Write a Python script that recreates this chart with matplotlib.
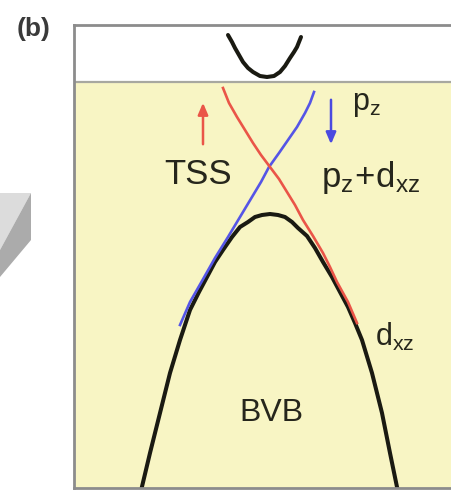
import matplotlib
matplotlib.use('Agg')
import matplotlib.pyplot as plt

# band dispersions (k in arb. units, E in arb. units)
bvb_k = [-1.30, -1.20, -1.10, -1.00, -0.90, -0.85, -0.80, -0.71, -0.63, -0.55, -0.47,
         -0.38, -0.30, -0.22, -0.15, -0.08, 0.00, 0.08, 0.15, 0.22, 0.28, 0.37, 0.45,
         0.53, 0.62, 0.70, 0.78, 0.85, 0.92, 1.02, 1.12, 1.20, 1.27, 1.29]
bvb_e = [-4.13, -3.71, -3.31, -2.91, -2.58, -2.43, -2.28, -2.10, -1.95, -1.80, -1.68,
         -1.55, -1.45, -1.40, -1.35, -1.33, -1.32, -1.33, -1.35, -1.40, -1.46, -1.54, -1.66,
         -1.80, -1.95, -2.10, -2.25, -2.41, -2.58, -2.91, -3.31, -3.71, -4.05, -4.13]

cb_k = [-0.42, -0.38, -0.35, -0.31, -0.27, -0.22, -0.17, -0.10, -0.03, 0.04, 0.10,
        0.15, 0.20, 0.24, 0.27, 0.31]
cb_e = [0.47, 0.40, 0.34, 0.27, 0.20, 0.14, 0.10, 0.06, 0.05, 0.06, 0.10,
        0.16, 0.24, 0.30, 0.35, 0.45]

tss_up_k = [-0.90, -0.80, -0.68, -0.55, -0.42, -0.30, -0.18, -0.09, -0.01, 0.09, 0.18,
            0.27, 0.35, 0.40, 0.44]
tss_up_e = [-2.43, -2.20, -1.99, -1.76, -1.55, -1.35, -1.15, -1.00, -0.85, -0.71, -0.58,
            -0.45, -0.31, -0.21, -0.10]

tss_dn_k = [-0.47, -0.41, -0.33, -0.25, -0.17, -0.09, 0.00, 0.09, 0.17, 0.25, 0.33,
            0.43, 0.53, 0.60, 0.67, 0.78, 0.87]
tss_dn_e = [-0.06, -0.21, -0.35, -0.48, -0.61, -0.73, -0.85, -0.97, -1.10, -1.23, -1.38,
            -1.54, -1.71, -1.85, -2.00, -2.20, -2.41]

# spin arrows: (k, E start, E end)
red_arrow = (-0.67, -0.65, -0.18)
blue_arrow = (0.61, -0.15, -0.65)

labels = ['TSS', r'$\mathrm{p_z}$', r'$\mathrm{p_z\!+\!d_{xz}}$', r'$\mathrm{d_{xz}}$', 'BVB']
label_pos = [(-0.72, -0.93), (0.96, -0.22), (1.01, -0.96), (1.25, -2.55), (0.01, -3.31)]
label_size = [25, 22, 25, 22, 23]

plt.rcParams['font.family'] = ['Liberation Sans', 'DejaVu Sans']
plt.rcParams['mathtext.fontset'] = 'custom'
plt.rcParams['mathtext.rm'] = 'Liberation Sans'
plt.rcParams['mathtext.it'] = 'Liberation Sans'

fig = plt.figure(figsize=(4.52, 4.91), dpi=100)

# background layer in pixel units, for the slab corner and panel letter
bg = fig.add_axes([0, 0, 1, 1])
bg.set_xlim(0, 452)
bg.set_ylim(491, 0)
bg.axis('off')
bg.fill([0, 31, 0], [193, 193, 250], color='#dcdcdc', lw=0)
bg.fill([31, 31, 0, 0], [193, 240, 277, 250], color='#ababab', lw=0)
bg.text(34, 29, '(b)', fontsize=19, fontweight='bold', color='#3a3a3a',
        ha='center', va='center')

ax = fig.add_axes([74 / 452, 3 / 491, 1 - 74 / 452, 463 / 491])
ax.set_xlim(-1.96, 1.82)
ax.set_ylim(-4.06, 0.57)
ax.set_facecolor('#f8f5c4')
ax.axhspan(0, 0.57, color='white', lw=0)
ax.axhline(0, color='#a8a8a0', lw=1.6)
ax.set_xticks([])
ax.set_yticks([])
for side in ['left', 'top', 'bottom']:
    ax.spines[side].set_color('#8c8c8c')
    ax.spines[side].set_linewidth(2)
ax.spines['right'].set_visible(False)

ax.plot(bvb_k, bvb_e, color='#1a1a12', lw=2.9, solid_capstyle='round',
        solid_joinstyle='round')
ax.plot(cb_k, cb_e, color='#1a1a12', lw=2.9, solid_capstyle='round',
        solid_joinstyle='round')
ax.plot(tss_up_k, tss_up_e, color='#5555e6', lw=1.9, solid_joinstyle='round')
ax.plot(tss_dn_k, tss_dn_e, color='#ea5548', lw=1.9, solid_joinstyle='round')

ax.annotate('', xy=(red_arrow[0], red_arrow[2]), xytext=(red_arrow[0], red_arrow[1]),
            arrowprops=dict(arrowstyle='-|>,head_length=0.7,head_width=0.3',
                            color='#ea5548', lw=1.8))
ax.annotate('', xy=(blue_arrow[0], blue_arrow[2]), xytext=(blue_arrow[0], blue_arrow[1]),
            arrowprops=dict(arrowstyle='-|>,head_length=0.7,head_width=0.3',
                            color='#4a4ae0', lw=1.8))

for text, (x, y), size in zip(labels, label_pos, label_size):
    ax.text(x, y, text, fontsize=size, color='#26261c', ha='center', va='center')

fig.savefig('out.png', dpi=100)
plt.close(fig)
